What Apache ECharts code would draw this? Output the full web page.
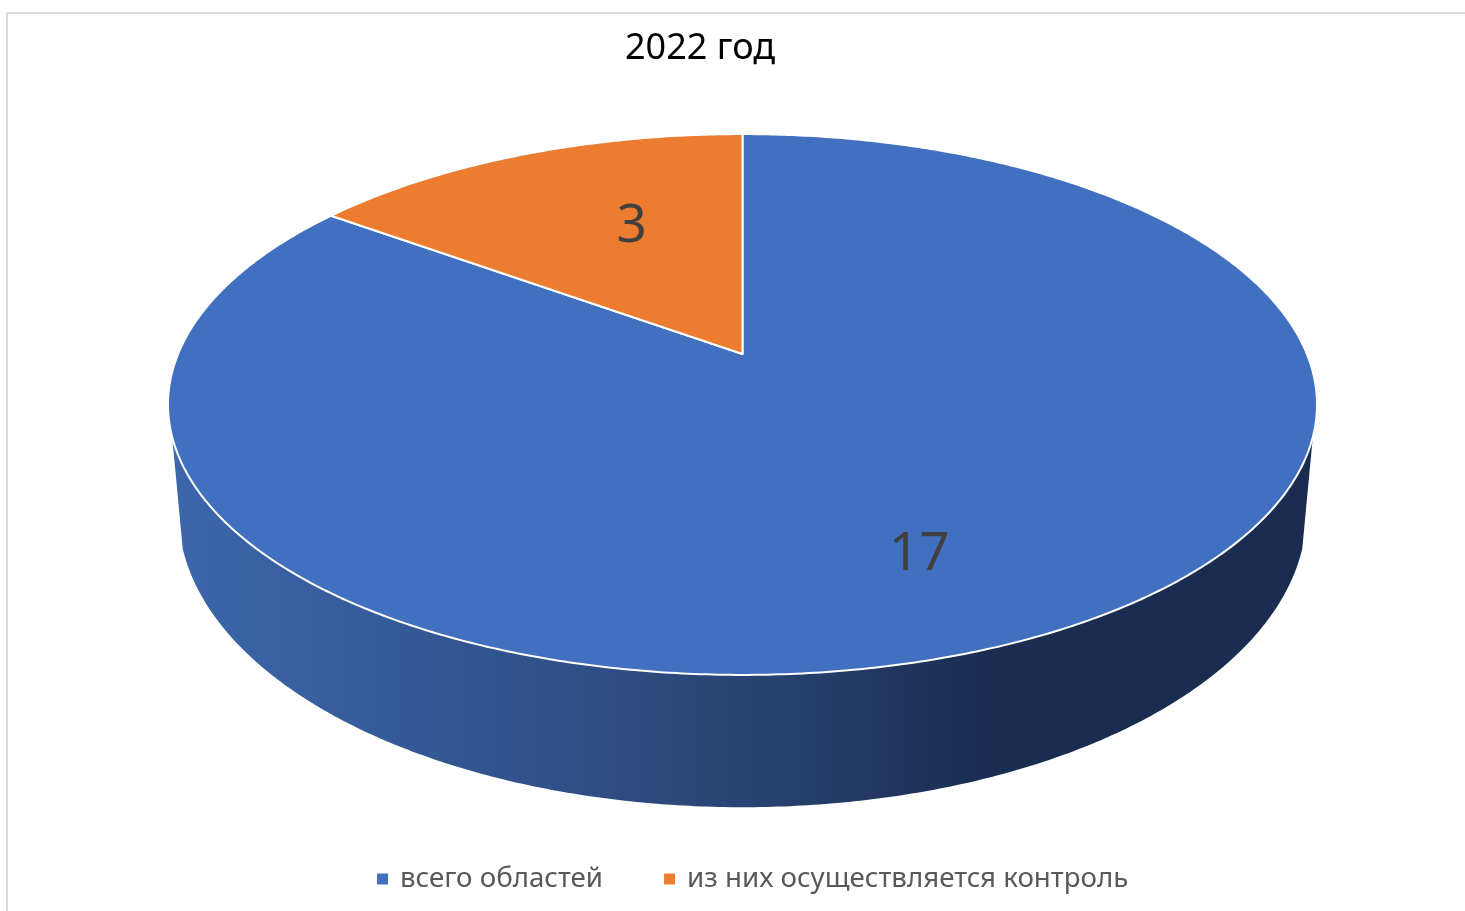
<!DOCTYPE html>
<html>
<head>
<meta charset="utf-8">
<title>2022 год</title>
<style>
  html, body { margin: 0; padding: 0; background: #fff; }
  #chart { width: 1465px; height: 911px; }
</style>
<script src="https://cdn.jsdelivr.net/npm/echarts@6/dist/echarts.min.js"></script>
</head>
<body>
<div id="chart"></div>
<script>
const chartTitle = '2022 год'
const categories = ['всего областей', 'из них осуществляется контроль']
const values = [17, 3]
const sliceColors = ['#4270c0', '#ec7c30']

// perspective disc: centre of the circle lands at CY, far edge is squeezed by K
const CX = 742.5
const CY = 354
const K = -0.1867
const TOP = { sx: 564.4, y0: CY, sy: 261 }
const BOTTOM = { sx: 554, y0: 458, sy: 284 }
const WALL_MIN_V = 0.297
const LABEL_FRAC = 0.6
const LABEL_NUDGE = [[6, 46], [29, 0]]

const total = values.reduce((a, b) => a + b, 0)

function project(face, u, v) {
  const d = 1 + K * v
  return [CX + face.sx * u / d, face.y0 + face.sy * v / d]
}

function arcAt(face, deg) {
  const a = deg * Math.PI / 180
  return project(face, Math.sin(a), -Math.cos(a))
}

const wallFill = {
  type: 'linear', x: 170, y: 0, x2: 1315, y2: 0, global: true,
  colorStops: [
    { offset: 0, color: '#3c67ac' },
    { offset: 0.25, color: '#335692' },
    { offset: 0.5, color: '#294473' },
    { offset: 0.72, color: '#1a2c50' },
    { offset: 1, color: '#1a2c50' },
  ],
}

function renderSlice(index) {
  const before = values.slice(0, index).reduce((a, b) => a + b, 0)
  const start = before / total * 360
  const end = (before + values[index]) / total * 360
  const children = []

  const wallTop = []
  const wallBottom = []
  for (let deg = start; deg <= end; deg += 0.5) {
    if (-Math.cos(deg * Math.PI / 180) < WALL_MIN_V) continue
    wallTop.push(arcAt(TOP, deg))
    wallBottom.unshift(arcAt(BOTTOM, deg))
  }
  if (wallTop.length > 1) {
    children.push({ type: 'polygon', shape: { points: wallTop.concat(wallBottom) }, style: { fill: wallFill } })
  }

  const face = [project(TOP, 0, 0)]
  for (let deg = start; deg < end; deg += 0.5) face.push(arcAt(TOP, deg))
  face.push(arcAt(TOP, end))
  children.push({
    type: 'polygon', shape: { points: face },
    style: { fill: sliceColors[index], stroke: '#fff', lineWidth: 2, lineJoin: 'round' },
  })

  const mid = (start + end) / 2 * Math.PI / 180
  const p = project(TOP, Math.sin(mid) * LABEL_FRAC, -Math.cos(mid) * LABEL_FRAC)
  children.push({
    type: 'text',
    style: {
      text: String(values[index]), x: p[0] + LABEL_NUDGE[index][0], y: p[1] + LABEL_NUDGE[index][1],
      fill: '#404040', font: '53px "Noto Sans"', align: 'center', verticalAlign: 'middle',
    },
  })
  return { type: 'group', children }
}

const chart = echarts.init(document.getElementById('chart'))
chart.setOption({
  animation: false,
  backgroundColor: '#fff',
  title: {
    text: chartTitle, left: 695, top: 26, textAlign: 'center',
    textStyle: { color: '#000', fontFamily: 'Noto Sans', fontSize: 36, fontWeight: 'normal' },
  },
  legend: {
    left: 372, top: 860, icon: 'rect', itemWidth: 11, itemHeight: 11, itemGap: 61,
    data: categories,
    textStyle: { color: '#595959', fontFamily: 'Noto Sans', fontSize: 27.7, padding: [0, 0, 0, 7] },
  },
  graphic: [
    { type: 'line', silent: true, shape: { x1: 7, y1: 13, x2: 1465, y2: 13 }, style: { stroke: '#d9d9d9', lineWidth: 2 } },
    { type: 'line', silent: true, shape: { x1: 7, y1: 13, x2: 7, y2: 911 }, style: { stroke: '#d9d9d9', lineWidth: 2 } },
  ],
  series: categories.map((name, i) => ({
    type: 'custom', name, coordinateSystem: 'none', silent: true,
    itemStyle: { color: sliceColors[i] },
    data: [values[i]],
    renderItem: () => renderSlice(i),
  })),
})
</script>
</body>
</html>
